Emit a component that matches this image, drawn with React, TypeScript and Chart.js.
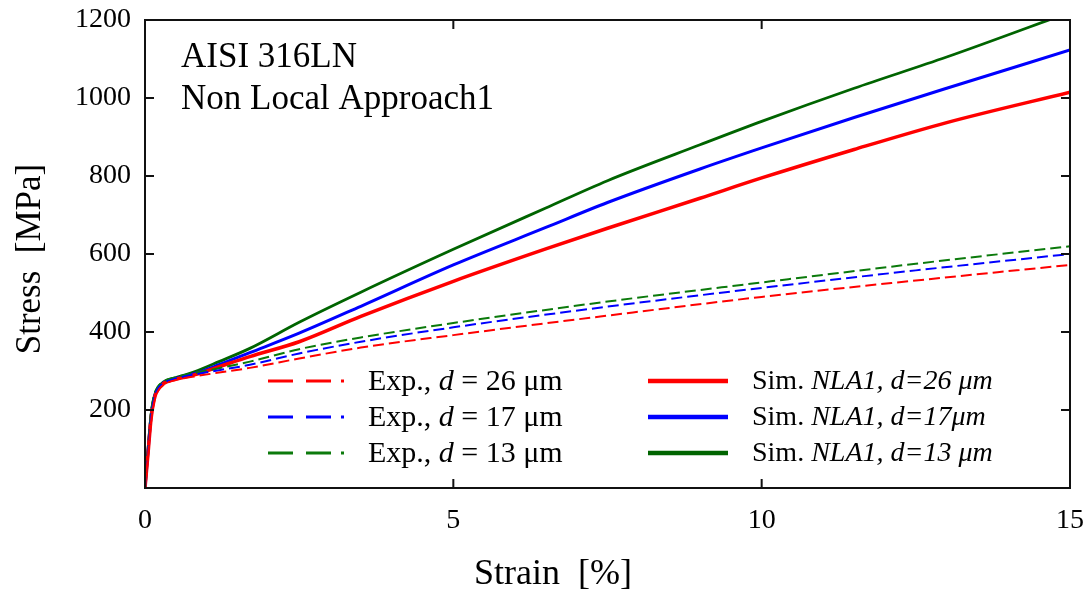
import React, { useEffect, useRef } from "react";
import { Chart, registerables } from "chart.js";

Chart.register(...registerables);

// ---- data ----
const simStrain = [0, 0.05, 0.1, 0.15, 0.2, 0.3, 0.5, 0.8, 1.2, 1.7, 2.5, 3.5, 5, 6.5, 7.5, 9, 10, 11.5, 13, 15];
const simD26 = [0, 90, 180, 228, 250, 268, 279, 290, 311, 337, 375, 440, 530, 613, 666, 743, 795, 868, 937, 1015];
const simD17 = [0, 95, 185, 232, 252, 270, 281, 293, 316, 347, 397, 466, 572, 668, 732, 818, 872, 950, 1025, 1123];
const simD13 = [0, 100, 190, 235, 255, 272, 283, 298, 324, 358, 425, 502, 612, 718, 788, 880, 940, 1025, 1105, 1220];

const expStrain = [0, 0.05, 0.1, 0.15, 0.2, 0.3, 0.5, 0.8, 1.2, 1.7, 2.5, 3.5, 5, 7.5, 10, 12.5, 15];
const expD26 = [0, 85, 172, 222, 246, 264, 277, 286, 296, 308, 332, 360, 392, 442, 490, 532, 572];
const expD17 = [0, 95, 185, 232, 253, 269, 281, 291, 302, 316, 345, 375, 412, 465, 513, 558, 600];
const expD13 = [0, 105, 198, 240, 258, 273, 284, 295, 307, 324, 356, 386, 423, 478, 527, 575, 620];

const xTicks = [0, 5, 10, 15];
const yTicks = [200, 400, 600, 800, 1000, 1200];

const expLegend = ["26", "17", "13"];
const simLegend = ["26 μm", "17μm", "13 μm"];

const RED = "#ff0000";
const BLUE = "#0000ff";
const GREEN_SIM = "#006400";
const GREEN_EXP = "#0b7a0b";

const SERIF = "'Liberation Serif', 'Times New Roman', serif";

function pts(xs: number[], ys: number[]) {
  return xs.map((x, i) => ({ x, y: ys[i] }));
}

const framePlugin = {
  id: "frameAndLegend",
  afterDraw(chart: any) {
    const ctx = chart.ctx as CanvasRenderingContext2D;
    const { left, right, top, bottom } = chart.chartArea;
    const xs = chart.scales.x;
    const ys = chart.scales.y;
    ctx.save();
    // frame
    ctx.strokeStyle = "#111";
    ctx.lineWidth = 2;
    ctx.setLineDash([]);
    ctx.strokeRect(left, top, right - left, bottom - top);
    // ticks
    const tl = 9;
    ctx.beginPath();
    xTicks.forEach((v) => {
      if (v === 0 || v === 15) return;
      const px = xs.getPixelForValue(v);
      ctx.moveTo(px, bottom);
      ctx.lineTo(px, bottom - tl);
      ctx.moveTo(px, top);
      ctx.lineTo(px, top + tl);
    });
    yTicks.forEach((v) => {
      if (v === 1200) return;
      const py = ys.getPixelForValue(v);
      ctx.moveTo(left, py);
      ctx.lineTo(left + tl, py);
      ctx.moveTo(right, py);
      ctx.lineTo(right - tl, py);
    });
    ctx.stroke();

    // axis titles
    ctx.fillStyle = "#000";
    ctx.font = `36px ${SERIF}`;
    ctx.textAlign = "center";
    ctx.textBaseline = "middle";
    ctx.fillText("Strain  [%]", 553, 575);
    ctx.save();
    ctx.translate(31, 259);
    ctx.rotate(-Math.PI / 2);
    ctx.font = `35px ${SERIF}`;
    ctx.fillText("Stress  [MPa]", 0, 0);
    ctx.restore();

    // annotation text
    ctx.textAlign = "left";
    ctx.textBaseline = "alphabetic";
    ctx.font = `35px ${SERIF}`;
    ctx.fillText("AISI 316LN", 181, 67);
    ctx.fillText("Non Local Approach1", 181, 109);

    // legend
    const rows = [381, 417, 453];
    const expColors = [RED, BLUE, GREEN_EXP];
    const simColors = [RED, BLUE, GREEN_SIM];
    const drawSegs = (segs: [string, boolean][], x: number, y: number, size: number) => {
      let cx = x;
      segs.forEach(([t, it]) => {
        ctx.font = `${it ? "italic " : ""}${size}px ${SERIF}`;
        ctx.fillText(t, cx, y);
        cx += ctx.measureText(t).width;
      });
    };
    rows.forEach((ry, i) => {
      ctx.strokeStyle = expColors[i];
      ctx.lineWidth = 3;
      ctx.setLineDash([25, 13, 25, 10, 3, 200]);
      ctx.beginPath();
      ctx.moveTo(268, ry);
      ctx.lineTo(346, ry);
      ctx.stroke();
      ctx.setLineDash([]);
      ctx.strokeStyle = simColors[i];
      ctx.lineWidth = 4.5;
      ctx.beginPath();
      ctx.moveTo(648, ry);
      ctx.lineTo(728, ry);
      ctx.stroke();
      ctx.fillStyle = "#000";
      ctx.textBaseline = "middle";
      drawSegs([["Exp., ", false], ["d", true], [` = ${expLegend[i]} μm`, false]], 368, ry + 1, 30);
      drawSegs([["Sim. ", false], [`NLA1, d=${simLegend[i]}`, true]], 752, ry + 1, 28);
    });
    ctx.restore();
  },
};

export default function App() {
  const ref = useRef<HTMLCanvasElement | null>(null);
  useEffect(() => {
    document.body.style.margin = "0";
    const canvas = ref.current;
    if (!canvas) return;
    const ds = (label: string, xs: number[], ys: number[], color: string, dashed: boolean, w: number) => ({
      label,
      data: pts(xs, ys),
      borderColor: color,
      backgroundColor: color,
      borderWidth: w,
      borderDash: dashed ? [11, 5] : [],
      pointRadius: 0,
      cubicInterpolationMode: "monotone",
      fill: false,
    });
    const chart = new Chart(canvas, {
      type: "line",
      data: {
        datasets: [
          ds("Exp., d = 26 μm", expStrain, expD26, RED, true, 2),
          ds("Exp., d = 17 μm", expStrain, expD17, BLUE, true, 2),
          ds("Exp., d = 13 μm", expStrain, expD13, GREEN_EXP, true, 2),
          ds("Sim. NLA1, d=26 μm", simStrain, simD26, RED, false, 3.5),
          ds("Sim. NLA1, d=17μm", simStrain, simD17, BLUE, false, 3),
          ds("Sim. NLA1, d=13 μm", simStrain, simD13, GREEN_SIM, false, 2.8),
        ],
      },
      options: {
        animation: false,
        responsive: true,
        maintainAspectRatio: false,
        layout: { padding: { left: 0, right: 13, top: 20, bottom: 0 } },
        plugins: { legend: { display: false }, tooltip: { enabled: false } },
        scales: {
          x: {
            type: "linear",
            min: 0,
            max: 15,
            afterBuildTicks: (s: any) => {
              s.ticks = xTicks.map((v) => ({ value: v }));
            },
            ticks: {
              font: { family: SERIF, size: 28 },
              color: "#000",
              padding: 16,
              maxRotation: 0,
            },
            grid: { display: false, drawTicks: false },
            border: { display: false },
            afterFit: (s: any) => {
              s.height = 104;
              s.paddingLeft = 0;
              s.paddingRight = 0;
            },
          },
          y: {
            type: "linear",
            min: 0,
            max: 1200,
            afterBuildTicks: (s: any) => {
              s.ticks = [0, ...yTicks].map((v) => ({ value: v }));
            },
            ticks: {
              font: { family: SERIF, size: 28 },
              color: "#000",
              padding: 14,
              callback: (v: any) => (v === 0 ? "" : String(v)),
            },
            grid: { display: false, drawTicks: false },
            border: { display: false },
            afterFit: (s: any) => {
              s.width = 145;
              s.paddingTop = 0;
              s.paddingBottom = 0;
            },
          },
        },
      },
      plugins: [framePlugin],
    });
    return () => chart.destroy();
  }, []);
  return (
    <div style={{ position: "absolute", left: 0, top: 0, width: 1083, height: 592, background: "#fff" }}>
      <canvas ref={ref} />
    </div>
  );
}
